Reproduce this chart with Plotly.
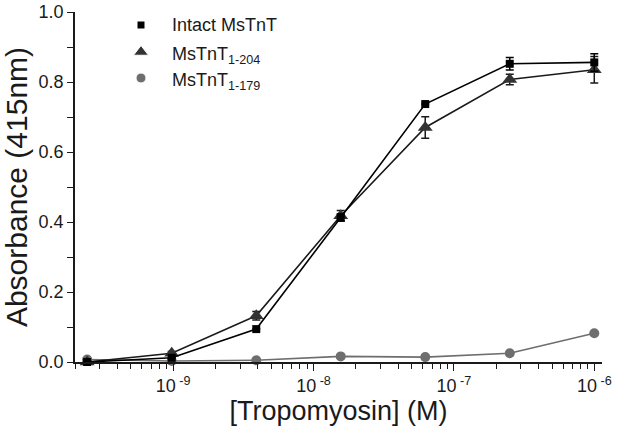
import plotly.graph_objects as go

conc = [2.44e-10, 9.77e-10, 3.91e-9, 1.5625e-8, 6.25e-8, 2.5e-7, 1e-6]
intact = [0.0, 0.012, 0.094, 0.413, 0.737, 0.852, 0.856]
intact_err = [0, 0, 0, 0.010, 0, 0.018, 0.025]
t204 = [0.0, 0.025, 0.132, 0.418, 0.670, 0.807, 0.835]
t204_err = [0, 0.005, 0.012, 0.015, 0.031, 0.015, 0.038]
t179 = [0.007, 0.003, 0.005, 0.016, 0.014, 0.025, 0.082]

names = ["Intact MsTnT", "MsTnT<sub>1-204</sub>", "MsTnT<sub>1-179</sub>"]
symbols = ["square", "triangle-up", "circle"]
sizes = [8, 13, 10]
colors = ["#000000", "#333333", "#6e6e6e"]
x_tickvals = [1e-9, 1e-8, 1e-7, 1e-6]
x_ticktext = ["10<sup> -9</sup>", "10<sup> -8</sup>", "10<sup> -7</sup>", "10<sup> -6</sup>"]
x_minor = [m * 10.0 ** e for e in range(-10, -5) for m in range(2, 10)]

FONT = "Liberation Sans, Arial, sans-serif"
W, H = 621, 427
ML, MR, MT, MB = 75, 19, 12, 65
PW, PH = W - ML - MR, H - MT - MB

def px_x(p):
    return (p - ML) / PW

def px_y(p):
    return (H - MB - p) / PH

fig = go.Figure()

# data traces
fig.add_trace(go.Scatter(
    x=conc, y=t179, mode="lines+markers", showlegend=False, cliponaxis=False,
    line=dict(color=colors[2], width=1.6),
    marker=dict(symbol=symbols[2], size=sizes[2], color=colors[2])))
fig.add_trace(go.Scatter(
    x=conc, y=t204, mode="lines+markers", showlegend=False, cliponaxis=False,
    line=dict(color="#1a1a1a", width=1.6),
    marker=dict(symbol=symbols[1], size=sizes[1], color=colors[1]),
    error_y=dict(type="data", array=t204_err, color="#1a1a1a", thickness=1.5, width=4)))
fig.add_trace(go.Scatter(
    x=conc, y=intact, mode="lines+markers", showlegend=False, cliponaxis=False,
    line=dict(color=colors[0], width=1.6),
    marker=dict(symbol=symbols[0], size=sizes[0], color=colors[0]),
    error_y=dict(type="data", array=intact_err, color="#000000", thickness=1.5, width=4)))

# manual legend: keys on an invisible overlay axis spanning the plot area
row_px = [25, 52, 78]
key_x = px_x(141)
text_x = px_x(170)
fig.add_trace(go.Scatter(
    x=[key_x] * 3, y=[px_y(r) for r in row_px], xaxis="x2", yaxis="y2",
    mode="markers", showlegend=False, hoverinfo="skip", cliponaxis=False,
    marker=dict(symbol=symbols, size=sizes, color=colors, opacity=1)))
for i, nm in enumerate(names):
    off = 0 if "<sub>" not in nm else 3.5
    fig.add_annotation(x=text_x, y=px_y(row_px[i] + off), xref="paper", yref="paper",
                       text=nm, showarrow=False, xanchor="left", yanchor="middle",
                       font=dict(size=18, family=FONT, color="#1a1a1a"))

fig.update_layout(
    width=W, height=H,
    margin=dict(l=ML, r=MR, t=MT, b=MB),
    paper_bgcolor="white", plot_bgcolor="white",
    font=dict(family=FONT, color="#1a1a1a", size=18),
    showlegend=False,
    xaxis=dict(type="log", range=[-9.699, -5.945], automargin=False,
               showline=True, linecolor="#1a1a1a", linewidth=1.5,
               showgrid=False, zeroline=False,
               tickmode="array", tickvals=x_tickvals, ticktext=x_ticktext,
               ticks="outside", ticklen=7, tickwidth=1.3, tickcolor="#1a1a1a",
               tickfont=dict(size=18, family=FONT),
               minor=dict(tickmode="array", tickvals=x_minor, ticks="outside",
                          ticklen=5, tickwidth=1.1, tickcolor="#1a1a1a", showgrid=False),
               title=dict(text="[Tropomyosin] (M)", font=dict(size=27, family=FONT), standoff=0)),
    yaxis=dict(range=[0, 1.0], automargin=False,
               showline=True, linecolor="#1a1a1a", linewidth=1.5,
               showgrid=False, zeroline=False,
               tickmode="linear", tick0=0, dtick=0.2, tickformat=".1f",
               ticks="outside", ticklen=6, tickwidth=1.3, tickcolor="#1a1a1a",
               tickfont=dict(size=18, family=FONT),
               minor=dict(tickmode="linear", tick0=0, dtick=0.1, ticks="outside",
                          ticklen=6, tickwidth=1.1, tickcolor="#1a1a1a", showgrid=False),
               title=dict(text="Absorbance (415nm)", font=dict(size=30, family=FONT), standoff=3)),
    xaxis2=dict(overlaying="x", range=[0, 1], visible=False, fixedrange=True),
    yaxis2=dict(overlaying="y", range=[0, 1], visible=False, fixedrange=True),
)

fig.write_html("out.html", config={"displayModeBar": False},
               post_script="document.body.style.margin='0';")
